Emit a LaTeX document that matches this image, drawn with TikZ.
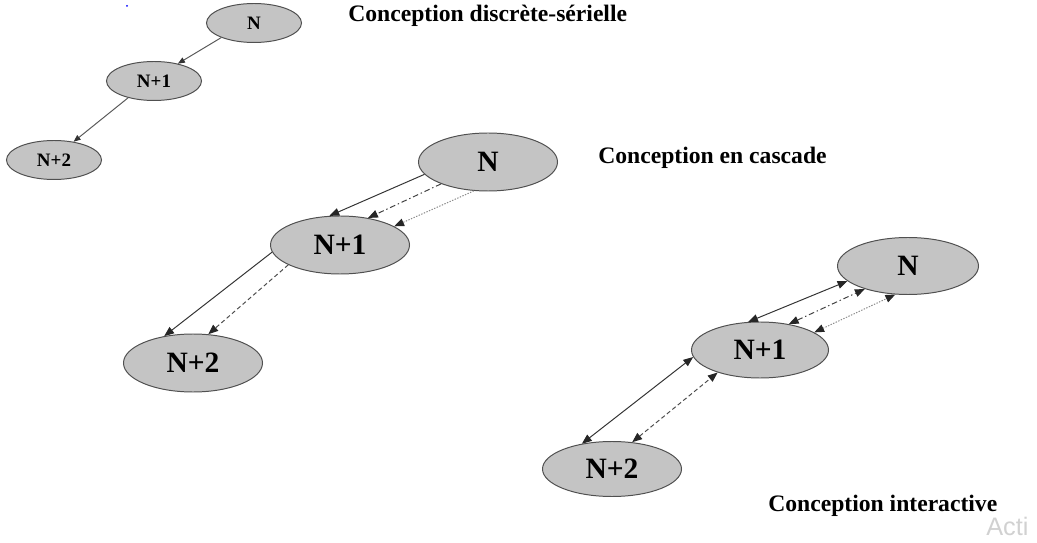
\documentclass[tikz,border=0pt]{standalone}
\usepackage{fontspec}
\setmainfont{Liberation Serif}
\newfontfamily\wmfont{Liberation Sans}
\usetikzlibrary{shapes.geometric,arrows.meta}
\definecolor{nodefill}{HTML}{C4C4C4}
\definecolor{nodeline}{HTML}{505050}
\tikzset{
  ov/.style={ellipse,draw=nodeline,fill=nodefill,line width=0.7pt,inner sep=0pt,font=\bfseries},
  ovs/.style={ov,minimum width=95*0.025cm,minimum height=39*0.025cm,font=\bfseries\fontsize{13.5}{13.5}\selectfont},
  ovb/.style={ov,minimum width=139*0.025cm,minimum height=58*0.025cm,font=\bfseries\fontsize{21}{21}\selectfont},
  tipS/.style={-{Triangle[length=5pt,width=4pt,color=black!80]}},
  tipB/.style={-{Triangle[length=7pt,width=5.5pt,color=black!85]}},
  tipBB/.style={{Triangle[length=7pt,width=5.5pt,color=black!85]}-{Triangle[length=7pt,width=5.5pt,color=black!85]}},
  solidline/.style={draw=black!80,line width=0.7pt},
  dashdotline/.style={draw=black!75,line width=0.7pt,dash pattern=on 4pt off 2pt on 1pt off 2pt},
  dottedline/.style={draw=black!45,line width=0.7pt,dash pattern=on 1pt off 1pt},
  dashedline/.style={draw=black!70,line width=0.7pt,dash pattern=on 3pt off 2pt},
  ttl/.style={anchor=west,inner sep=0pt,font=\bfseries\fontsize{16.8}{16.8}\selectfont}
}
\begin{document}
\begin{tikzpicture}[x=0.025cm,y=-0.025cm]
\useasboundingbox (0,0) rectangle (1037,543);
% top group
\node[ovs] (a0) at (254,23) {N};
\node[ovs] (a1) at (154,81) {N+1};
\node[ovs] (a2) at (54,160) {N+2};
\draw[solidline,draw=black!65,tipS] (a0.204) -- (a1.36);
\draw[solidline,draw=black!65,tipS] (a1.213) -- (a2.43);
\node[ttl] (t1) at (348,16) {Conception discrète-sérielle};
\fill[blue] (127,6) circle (1);
% middle group
\node[ovb] (b0) at (488,162) {N};
\node[ovb] (b1) at (340,245) {N+1};
\node[ovb] (b2) at (193,363) {N+2};
\draw[solidline,tipB] (b0.191) -- (b1.110);
\draw[dashdotline,tipB] (b0.205) -- (b1.44);
\draw[dottedline,tipB] (b0.244) -- (b1.19);
\draw[solidline,tipB] (b1.186) -- (b2.137);
\draw[dashedline,tipB] (b1.201) -- (b2.62);
\node[ttl] (t2) at (598,158) {Conception en cascade};
% bottom group
\node[ovb,minimum width=141*0.025cm,minimum height=57*0.025cm] (c0) at (908,266) {N};
\node[ovb,minimum width=137*0.025cm,minimum height=56*0.025cm] (c1) at (760,350) {N+1};
\node[ovb,minimum width=139*0.025cm,minimum height=55*0.025cm] (c2) at (612,469) {N+2};
\draw[solidline,tipBB] (c1.113) -- (c0.194);
\draw[dashdotline,tipBB] (c1.42) -- (c0.208);
\draw[dottedline,tipBB] (c1.18) -- (c0.246);
\draw[solidline,tipBB] (c2.140) -- (c1.186);
\draw[dashedline,tipBB] (c2.53) -- (c1.208);
\node[ttl] (t3) at (768,506) {Conception interactive};
\node[anchor=base west,inner sep=0pt,text=black!18,font=\wmfont\fontsize{18}{18}\selectfont] (wm) at (986,535) {Acti};
\end{tikzpicture}
\end{document}
